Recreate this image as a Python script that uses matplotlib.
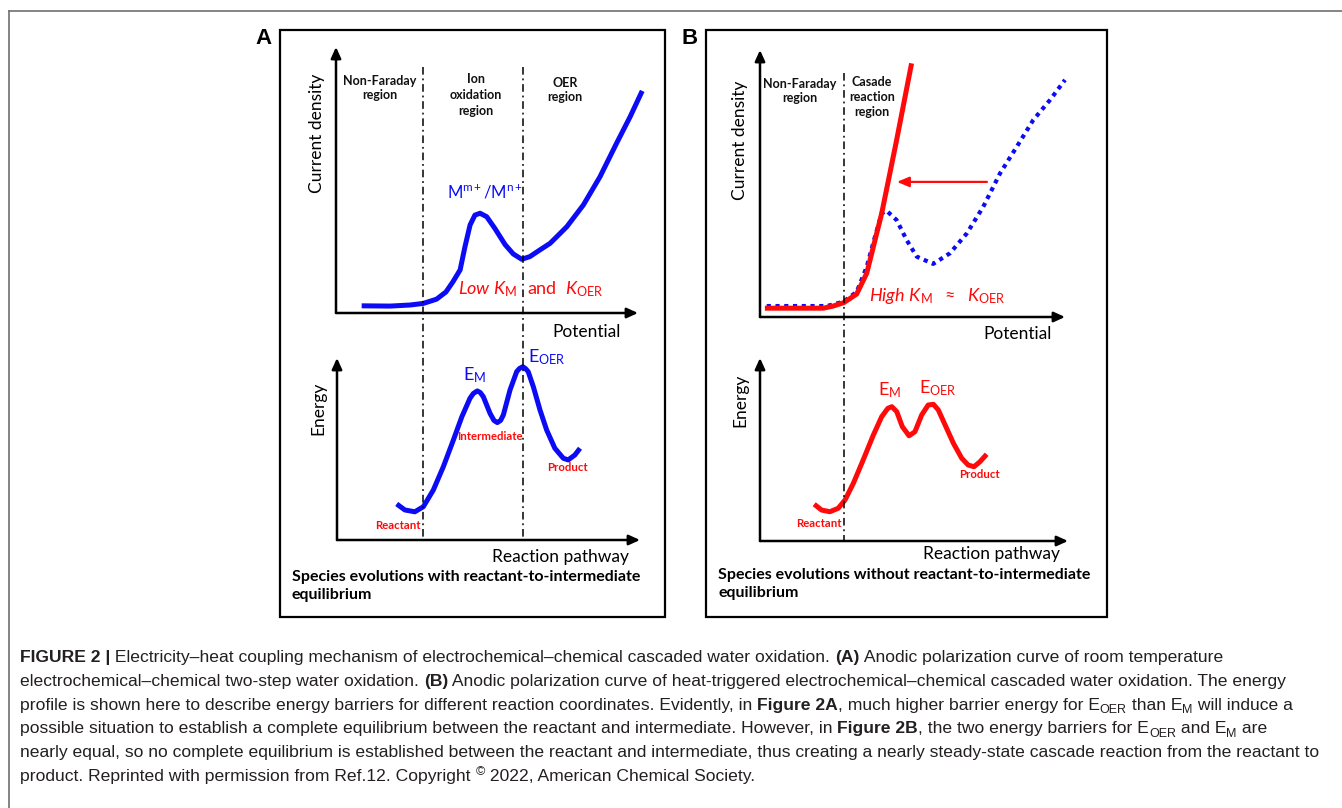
import matplotlib
matplotlib.use('Agg')
import matplotlib.pyplot as plt
from matplotlib import transforms, font_manager
from matplotlib.lines import Line2D
from matplotlib.patches import Rectangle

# %% data (schematic units, every axis runs 0..10)

# A: polarization curve, room temperature
a_pot = [0.85, 1.79, 2.45, 2.89, 3.33, 3.64, 3.87, 4.11, 4.27, 4.44, 4.60, 4.77,
         4.99, 5.26, 5.60, 5.87, 6.15, 6.42, 6.75, 7.09, 7.64, 8.19, 8.74, 9.29,
         9.74, 10.14]
a_cur = [0.27, 0.26, 0.30, 0.36, 0.52, 0.79, 1.17, 1.62, 2.49, 3.31, 3.68, 3.75,
         3.62, 3.18, 2.57, 2.22, 2.02, 2.12, 2.37, 2.62, 3.24, 4.06, 5.12, 6.38,
         7.38, 8.35]
# A: energy profile
a_path = [1.97, 2.24, 2.57, 2.85, 3.18, 3.51, 3.84, 4.12, 4.39, 4.50, 4.63, 4.73,
          4.83, 5.05, 5.18, 5.29, 5.40, 5.49, 5.71, 5.93, 6.02, 6.13, 6.22, 6.31,
          6.48, 6.70, 6.92, 7.19, 7.47, 7.63, 7.85, 8.02]
a_energy = [1.98, 1.65, 1.55, 1.83, 2.75, 4.03, 5.49, 6.77, 7.79, 8.05, 8.19, 8.10,
            7.87, 6.96, 6.57, 6.45, 6.57, 6.87, 8.24, 9.25, 9.42, 9.52, 9.42, 9.25,
            8.42, 7.14, 6.04, 5.04, 4.49, 4.40, 4.67, 5.04]
a_regions = [2.88, 6.19]

# B: heat-triggered polarization curve (red) and room temperature (blue dots)
b_pot_red = [0.16, 2.08, 2.40, 2.75, 3.17, 3.50, 3.99, 4.48, 4.97]
b_cur_red = [0.33, 0.33, 0.41, 0.54, 0.86, 1.64, 3.88, 6.63, 9.50]
b_pot_blue = [0.22, 2.19, 2.73, 3.17, 3.50, 3.77, 3.99, 4.15, 4.48, 4.81, 5.14,
              5.68, 6.23, 6.78, 7.32, 7.87, 8.42, 8.96, 9.51, 10.0]
b_cur_blue = [0.41, 0.41, 0.57, 0.94, 1.88, 3.01, 3.88, 3.98, 3.63, 2.88, 2.26,
              1.99, 2.39, 3.13, 4.13, 5.38, 6.38, 7.38, 8.13, 8.88]
b_shift_x = [7.44, 4.49]
b_shift_y = 5.06
# B: energy profile
b_path = [1.76, 2.00, 2.27, 2.54, 2.76, 3.03, 3.35, 3.68, 3.95, 4.15, 4.28, 4.44,
          4.62, 4.84, 5.03, 5.25, 5.46, 5.63, 5.79, 6.01, 6.28, 6.55, 6.76, 6.95,
          7.14, 7.36]
b_energy = [2.01, 1.69, 1.60, 1.79, 2.24, 3.15, 4.43, 5.79, 6.79, 7.25, 7.34, 7.07,
            6.25, 5.75, 5.97, 6.89, 7.43, 7.47, 7.16, 6.34, 5.34, 4.52, 4.15, 4.06,
            4.33, 4.74]
b_regions = [2.75]

caption = [
    [('FIGURE 2 |', 'b'), (' Electricity\u2013heat coupling mechanism of electrochemical\u2013chemical '
      'cascaded water oxidation. ', 'n'), ('(A)', 'b'),
     (' Anodic polarization curve of room temperature', 'n')],
    [('electrochemical\u2013chemical two-step water oxidation. ', 'n'), ('(B)', 'b'),
     (' Anodic polarization curve of heat-triggered electrochemical\u2013chemical cascaded '
      'water oxidation. The energy', 'n')],
    [('profile is shown here to describe energy barriers for different reaction coordinates. '
      'Evidently, in ', 'n'), ('Figure 2A', 'b'), (', much higher barrier energy for E', 'n'),
     ('OER', 'sub'), (' than E', 'n'), ('M', 'sub'), (' will induce a', 'n')],
    [('possible situation to establish a complete equilibrium between the reactant and '
      'intermediate. However, in ', 'n'), ('Figure 2B', 'b'),
     (', the two energy barriers for E', 'n'), ('OER', 'sub'), (' and E', 'n'), ('M', 'sub'),
     (' are', 'n')],
    [('nearly equal, so no complete equilibrium is established between the reactant and '
      'intermediate, thus creating a nearly steady-state cascade reaction from the reactant to', 'n')],
    [('product. Reprinted with permission from Ref.12. Copyright ', 'n'), ('\u00a9', 'sup'),
     (' 2022, American Chemical Society.', 'n')],
]

# %% style

plt.rcParams['font.family'] = ['Lato', 'DejaVu Sans']
plt.rcParams['mathtext.fontset'] = 'custom'
plt.rcParams['mathtext.rm'] = 'Lato'
plt.rcParams['mathtext.it'] = 'Lato:italic'
plt.rcParams['mathtext.bf'] = 'Lato:bold'

BLUE = '#0b0bf5'
RED = '#ff0a0a'
W, H = 1342, 808

fig = plt.figure(figsize=(W / 100, H / 100), dpi=100)


def fy(y):
    return 1 - y / H


def px_axes(left, top, right, bottom):
    ax = fig.add_axes([left / W, fy(bottom), (right - left) / W, (bottom - top) / H])
    ax.set_xlim(0, 10)
    ax.set_ylim(0, 10)
    ax.axis('off')
    for tip in [(1, 0), (0, 1)]:
        ax.annotate('', xy=tip, xytext=(0, 0), xycoords='axes fraction',
                    arrowprops=dict(arrowstyle='-|>,head_length=0.55,head_width=0.25',
                                    lw=1.8, color='black', shrinkA=0, shrinkB=0,
                                    mutation_scale=12))
    return ax


def region_line(ax, x, y0, y1):
    tr = transforms.blended_transform_factory(ax.transData, fig.transFigure)
    fig.add_artist(Line2D([x, x], [fy(y0), fy(y1)], transform=tr, color='black',
                          lw=1.1, ls=(0, (5, 2.5, 1.2, 2.5))))


# outer frame and panel boxes
fig.add_artist(Line2D([9 / W, 1], [fy(11), fy(11)], color='#707070', lw=1.2))
fig.add_artist(Line2D([9 / W, 9 / W], [fy(11), 0], color='#707070', lw=1.2))
for x0, x1 in [(280, 665), (706, 1107)]:
    fig.add_artist(Rectangle((x0 / W, fy(617)), (x1 - x0) / W, 587 / H, fill=False,
                             ec='black', lw=1.6, transform=fig.transFigure))
fig.text(263 / W, fy(39), 'A', ha='center', va='center', fontsize=16, fontweight='bold',
         family='Liberation Sans')
fig.text(690 / W, fy(39), 'B', ha='center', va='center', fontsize=16, fontweight='bold',
         family='Liberation Sans')

lab = dict(fontsize=12.5, ha='center', va='center')
reg = dict(fontsize=9, fontweight='bold', ha='center', va='center', color='#111111')
spc = dict(fontsize=11.5, fontweight='bold', ha='left', va='top', linespacing=1.3)
tag = dict(fontsize=8.2, fontweight='bold', color=RED, ha='center', va='center')
LW = 3.6

# %% panel A, polarization
ax = px_axes(336, 47, 638, 313)
ax.plot(a_pot, a_cur, color=BLUE, lw=LW, solid_capstyle='butt', solid_joinstyle='round',
        clip_on=False)
for x in a_regions:
    region_line(ax, x, 67, 540)
ax.text(1.46, 8.46, 'Non-Faraday\nregion', linespacing=1.25, **reg)
ax.text(4.64, 8.19, 'Ion\noxidation\nregion', linespacing=1.4, **reg)
ax.text(7.58, 8.38, 'OER\nregion', linespacing=1.25, **reg)
ax.text(-0.63, 6.77, 'Current density', rotation=90, **lab)
ax.text(8.31, -0.71, 'Potential', fontsize=12.5, ha='center', va='center')
ax.text(4.93, 4.55, r'M$^{\mathregular{m+}}$/M$^{\mathregular{n+}}$', color=BLUE,
        fontsize=12, ha='center', va='center')
ax.text(5.03, 0.90, r'$\mathit{Low\ K}_{\mathrm{M}}$', color=RED, fontsize=13,
        ha='center', va='center')
ax.text(7.58, 0.90, r'and  $\mathit{K}_{\mathrm{OER}}$', color=RED, fontsize=13,
        ha='center', va='center')

# %% panel A, energy
ax = px_axes(337, 358, 640, 540)
ax.plot(a_path, a_energy, color=BLUE, lw=LW, solid_capstyle='butt',
        solid_joinstyle='round', clip_on=False)
ax.text(4.55, 9.07, r'E$_{\mathrm{M}}$', color=BLUE, fontsize=13, ha='center', va='center')
ax.text(6.93, 10.05, r'E$_{\mathrm{OER}}$', color=BLUE, fontsize=13, ha='center',
        va='center')
ax.text(5.05, 5.66, 'Intermediate', **tag)
ax.text(7.59, 3.96, 'Product', **tag)
ax.text(2.01, 0.82, 'Reactant', **tag)
ax.text(-0.63, 7.25, 'Energy', rotation=90, **lab)
ax.text(7.36, -0.93, 'Reaction pathway', fontsize=12.5, ha='center', va='center')
ax.text(-1.49, -1.66, 'Species evolutions with reactant-to-intermediate\nequilibrium', **spc)

# %% panel B, polarization
ax = px_axes(760, 50, 1065, 317)
ax.plot(b_pot_blue, b_cur_blue, color=BLUE, lw=3.0, ls=(0, (1, 1.1)),
        dash_capstyle='butt', clip_on=False)
ax.plot(b_pot_red, b_cur_red, color=RED, lw=LW, solid_capstyle='butt',
        solid_joinstyle='round', clip_on=False)
ax.annotate('', xy=(b_shift_x[1], b_shift_y), xytext=(b_shift_x[0], b_shift_y),
            arrowprops=dict(arrowstyle='-|>,head_length=0.6,head_width=0.25', lw=1.6,
                            color=RED, shrinkA=0, shrinkB=0, mutation_scale=12))
for x in b_regions:
    region_line(ax, x, 73, 542)
ax.text(1.31, 8.46, 'Non-Faraday\nregion', linespacing=1.25, **reg)
ax.text(3.67, 8.24, 'Casade\nreaction\nregion', linespacing=1.3, **reg)
ax.text(-0.66, 6.63, 'Current density', rotation=90, **lab)
ax.text(8.46, -0.64, 'Potential', fontsize=12.5, ha='center', va='center')
ax.text(5.80, 0.79, r'$\mathit{High\ K}_{\mathrm{M}}\ \ \approx\ \ \mathit{K}_{\mathrm{OER}}$',
        color=RED, fontsize=13, ha='center', va='center')

# %% panel B, energy
ax = px_axes(760, 358, 1068, 541)
ax.plot(b_path, b_energy, color=RED, lw=LW, solid_capstyle='butt',
        solid_joinstyle='round', clip_on=False)
ax.text(4.22, 8.25, r'E$_{\mathrm{M}}$', color=RED, fontsize=13, ha='center', va='center')
ax.text(5.78, 8.36, r'E$_{\mathrm{OER}}$', color=RED, fontsize=13, ha='center',
        va='center')
ax.text(7.11, 3.61, 'Product', **tag)
ax.text(1.92, 0.98, 'Reactant', **tag)
ax.text(-0.65, 7.70, 'Energy', rotation=90, **lab)
ax.text(7.53, -0.71, 'Reaction pathway', fontsize=12.5, ha='center', va='center')
ax.text(-1.36, -1.50, 'Species evolutions without reactant-to-intermediate\nequilibrium',
        **spc)

# %% caption


def have_font(name):
    try:
        font_manager.findfont(name, fallback_to_default=False)
        return True
    except ValueError:
        return False


cap_font = 'Liberation Sans Narrow' if have_font('Liberation Sans Narrow') else 'Liberation Sans'
renderer = fig.canvas.get_renderer()


def seg_props(style, size):
    kw = dict(family=cap_font, fontsize=size, color='#231f20')
    if style == 'b':
        kw['fontweight'] = 'bold'
    if style in ('sub', 'sup'):
        kw['fontsize'] = size * 0.72
    return kw


def width(s, kw):
    t = fig.text(0, 0, '|' + s + '|', **kw)
    w = t.get_window_extent(renderer).width
    t.remove()
    t = fig.text(0, 0, '||', **kw)
    w -= t.get_window_extent(renderer).width
    t.remove()
    return w


# fit font size so the widest caption line spans the printed width
widest = max(sum(width(s, seg_props(st, 10)) for s, st in line) for line in caption)
cap_size = 10 * 1300 / widest

for i, line in enumerate(caption):
    x = 20
    base = 662 + i * 23.8
    for s, st in line:
        kw = seg_props(st, cap_size)
        dy = {'sub': -3.5, 'sup': 6}.get(st, 0)
        fig.text(x / W, fy(base) + dy / H, s, va='baseline', ha='left', **kw)
        x += width(s, kw)

fig.savefig('out.png', dpi=100)
